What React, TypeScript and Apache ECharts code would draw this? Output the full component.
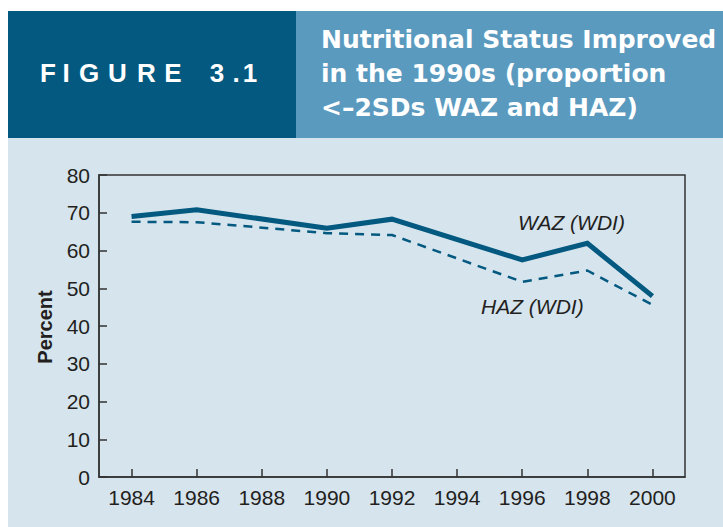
import React, { useEffect, useRef } from "react";
import * as echarts from "echarts";

const years = [1984, 1986, 1990, 1992, 1996, 1998, 2000];
const waz = [69, 70.8, 65.9, 68.3, 57.5, 61.9, 47.9];
const haz = [67.6, 67.5, 64.6, 64.1, 51.7, 54.7, 45.6];
const xTicks = [1984, 1986, 1988, 1990, 1992, 1994, 1996, 1998, 2000];
const titleLines = ["Nutritional Status Improved", "in the 1990s (proportion", "<\u20132SDs WAZ and HAZ)"];
const figureChars = ["F", "I", "G", "U", "R", "E", "3", ".", "1"];
const figureCenters = [48, 66, 89, 117.5, 146.5, 173, 217, 236, 250];

const NARROW = "'Liberation Sans Narrow', 'Liberation Sans', Arial, sans-serif";
const LINE = "#03597f";

export default function App() {
  const ref = useRef<HTMLDivElement>(null);
  useEffect(() => {
    const chart = echarts.init(ref.current!, null, { renderer: "svg" });
    const graphics: any[] = [
      { type: "rect", z: -10, shape: { x: 8, y: 138, width: 715, height: 389 }, style: { fill: "#d6e4ee" } },
      { type: "rect", z: -10, shape: { x: 8, y: 11, width: 288, height: 127 }, style: { fill: "#03597f" } },
      { type: "rect", z: -10, shape: { x: 296, y: 11, width: 427, height: 127 }, style: { fill: "#5b9abf" } },
    ];
    figureChars.forEach((c, i) => {
      graphics.push({
        type: "text",
        x: figureCenters[i],
        y: 73,
        style: { text: c, fill: "#ffffff", font: "bold 26px 'Liberation Sans', Arial, sans-serif", align: "center", verticalAlign: "middle" },
      });
    });
    titleLines.forEach((t, i) => {
      graphics.push({
        type: "text",
        x: 321,
        y: 39 + i * 34,
        style: { text: t, fill: "#ffffff", font: "bold 25px 'DejaVu Sans', sans-serif", align: "left", verticalAlign: "middle" },
      });
    });
    graphics.push(
      { type: "text", x: 518, y: 222, style: { text: "WAZ (WDI)", fill: "#231f20", font: `italic 21px ${NARROW}`, align: "left", verticalAlign: "middle" } },
      { type: "text", x: 481, y: 306, style: { text: "HAZ (WDI)", fill: "#231f20", font: `italic 21px ${NARROW}`, align: "left", verticalAlign: "middle" } },
      { type: "text", x: 45, y: 327, rotation: Math.PI / 2, style: { text: "Percent", fill: "#231f20", font: `bold 20px ${NARROW}`, align: "center", verticalAlign: "middle" } }
    );

    chart.setOption({
      animation: false,
      backgroundColor: "#ffffff",
      grid: { left: 99, right: 38, top: 175, bottom: 50, show: true, borderColor: "#333333", borderWidth: 1.5, backgroundColor: "transparent" },
      xAxis: {
        type: "value",
        min: 1983,
        max: 2001,
        axisLine: { show: true, lineStyle: { color: "#333333", width: 1.5 } },
        axisTick: { show: true, inside: true, length: 8, customValues: xTicks, lineStyle: { color: "#333333", width: 1.5 } },
        axisLabel: { customValues: xTicks, color: "#231f20", fontFamily: NARROW, fontSize: 21, margin: 10, formatter: (v: number) => String(v) },
        splitLine: { show: false },
      },
      yAxis: {
        type: "value",
        min: 0,
        max: 80,
        interval: 10,
        axisLine: { show: true, lineStyle: { color: "#333333", width: 1.5 } },
        axisTick: { show: true, inside: true, length: 8, lineStyle: { color: "#333333", width: 1.5 } },
        axisLabel: { color: "#231f20", fontFamily: NARROW, fontSize: 21, margin: 9 },
        splitLine: { show: false },
      },
      graphic: graphics,
      series: [
        {
          type: "line",
          name: "WAZ (WDI)",
          data: years.map((y, i) => [y, waz[i]]),
          showSymbol: false,
          lineStyle: { color: LINE, width: 5, join: "miter" },
          z: 3,
        },
        {
          type: "line",
          name: "HAZ (WDI)",
          data: years.map((y, i) => [y, haz[i]]),
          showSymbol: false,
          lineStyle: { color: LINE, width: 2.5, type: [9, 7] },
          z: 2,
        },
      ],
    });
    return () => chart.dispose();
  }, []);
  return <div ref={ref} style={{ position: "fixed", left: 0, top: 0, width: 723, height: 527 }} />;
}
